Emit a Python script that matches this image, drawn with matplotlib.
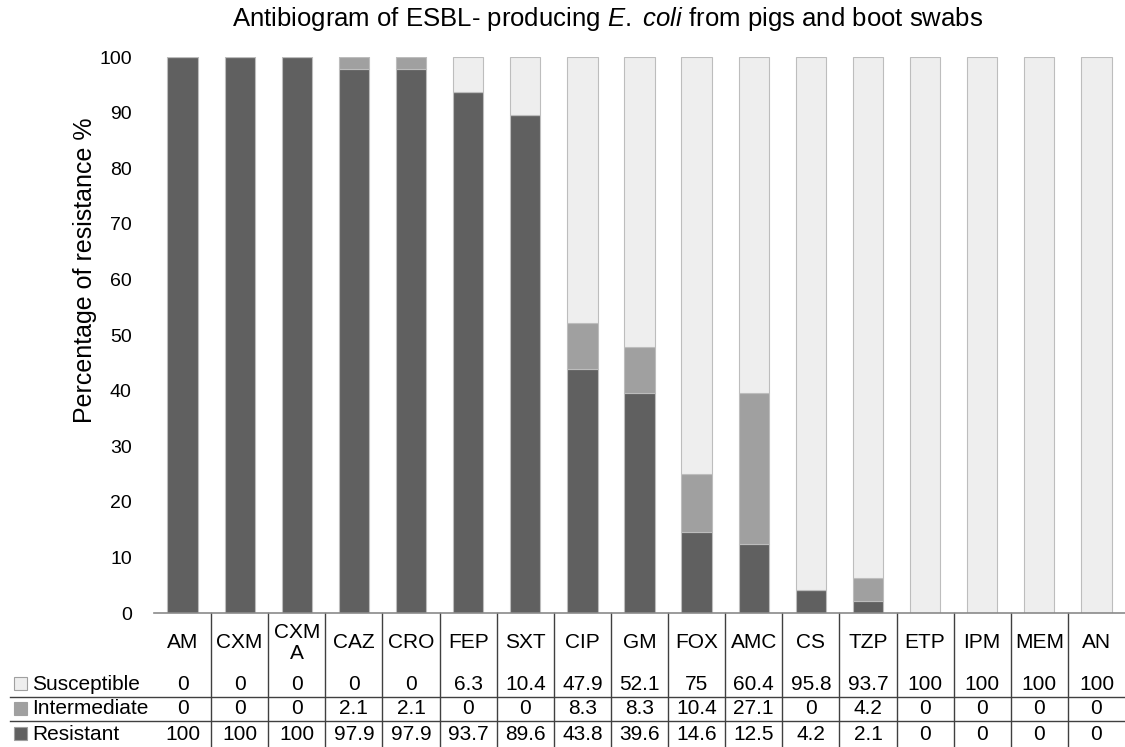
import numpy as np
import matplotlib.pyplot as plt
from matplotlib.transforms import blended_transform_factory

plt.rcParams['font.family'] = ['Liberation Sans', 'DejaVu Sans']
plt.rcParams['mathtext.fontset'] = 'custom'
plt.rcParams['mathtext.it'] = 'Liberation Sans:italic'
plt.rcParams['mathtext.rm'] = 'Liberation Sans'

drugs = ['AM', 'CXM', 'CXM\nA', 'CAZ', 'CRO', 'FEP', 'SXT', 'CIP', 'GM', 'FOX',
         'AMC', 'CS', 'TZP', 'ETP', 'IPM', 'MEM', 'AN']
susceptible = [0, 0, 0, 0, 0, 6.3, 10.4, 47.9, 52.1, 75, 60.4, 95.8, 93.7, 100, 100, 100, 100]
intermediate = [0, 0, 0, 2.1, 2.1, 0, 0, 8.3, 8.3, 10.4, 27.1, 0, 4.2, 0, 0, 0, 0]
resistant = [100, 100, 100, 97.9, 97.9, 93.7, 89.6, 43.8, 39.6, 14.6, 12.5, 4.2, 2.1, 0, 0, 0, 0]

W, H = 1125, 747
fig = plt.figure(figsize=(W / 100, H / 100), dpi=100)

# plot area in pixels: left 154, right 1125, top 57, bottom 613
ax = fig.add_axes([154 / W, (H - 613) / H, (1125 - 154) / W, (613 - 57) / H])

x = np.arange(len(drugs))
res = np.array(resistant)
inter = np.array(intermediate)
sus = np.array(susceptible)
edge = '#bdbdbd'
ax.bar(x, res, width=0.53, color='#606060', edgecolor=edge, linewidth=0.8)
ax.bar(x, inter, width=0.53, bottom=res, color='#a0a0a0', edgecolor=edge, linewidth=0.8)
ax.bar(x, sus, width=0.53, bottom=res + inter, color='#eeeeee', edgecolor=edge, linewidth=0.8)

ax.set_xlim(-0.5, len(drugs) - 0.5)
ax.set_ylim(0, 100)
ax.set_yticks(range(0, 101, 10))
ax.tick_params(axis='y', length=0, pad=16, labelsize=14)
ax.set_xticks([])
for s in ['left', 'right', 'top']:
    ax.spines[s].set_visible(False)
ax.spines['bottom'].set_color('#8a8a8a')
ax.spines['bottom'].set_linewidth(1.2)

fig.text(85 / W, 1 - 270 / H, 'Percentage of resistance %', rotation=90,
         ha='center', va='center', fontsize=18)
fig.text(608 / W, 1 - 19 / H,
         r'Antibiogram of ESBL- producing $\it{E.}$ $\it{coli}$ from pigs and boot swabs',
         ha='center', va='center', fontsize=18.5)

# data table below the axis
tr = blended_transform_factory(ax.transData, fig.transFigure)
fy = lambda py: 1 - py / H
line_c = '#404040'

for i, d in enumerate(drugs):
    ax.text(i, fy(643), d, transform=tr, ha='center', va='center', fontsize=15,
            linespacing=1.15, clip_on=False)

rows = [('Susceptible', susceptible, '#eeeeee', 684),
        ('Intermediate', intermediate, '#a0a0a0', 709),
        ('Resistant', resistant, '#606060', 734)]
for name, vals, col, py in rows:
    fig.patches.append(plt.Rectangle((14 / W, fy(py + 6)), 13 / W, 13 / H,
                                     transform=fig.transFigure, facecolor=col,
                                     edgecolor='#a0a0a0', linewidth=0.8))
    fig.text(32 / W, fy(py), name, ha='left', va='center', fontsize=15)
    for i, v in enumerate(vals):
        ax.text(i, fy(py), f'{v:g}', transform=tr, ha='center', va='center',
                fontsize=15, clip_on=False)

for k in range(len(drugs) - 1):
    ax.plot([k + 0.5, k + 0.5], [fy(613), fy(747)], transform=tr, color=line_c,
            linewidth=1, clip_on=False)
for py in [697, 721]:
    fig.add_artist(plt.Line2D([10 / W, 1], [fy(py), fy(py)], color=line_c, linewidth=1))

fig.savefig('out.png', dpi=100)
